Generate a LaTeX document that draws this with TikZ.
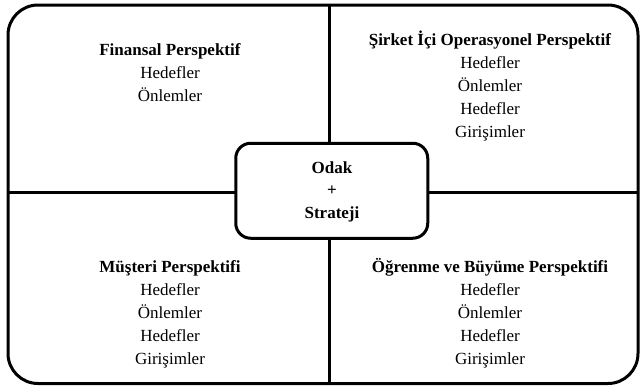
\documentclass[tikz,border=0pt]{standalone}
\usepackage{fontspec}
\setmainfont{Liberation Serif}
\newcommand{\hstrut}{\rule{0pt}{15pt}}
\begin{document}
\begin{tikzpicture}[x=1pt,y=-1pt,
  frame/.style={line width=3pt, rounded corners=30pt},
  divider/.style={line width=3pt},
  focusbox/.style={draw, line width=3pt, rounded corners=15pt, fill=white, minimum width=192pt, minimum height=95pt, inner sep=0pt},
  quad/.style={align=center, anchor=north, inner sep=0pt, font=\fontsize{17}{23}\selectfont},
  ctext/.style={align=center, anchor=north, inner sep=0pt, font=\bfseries\fontsize{17}{22.5}\selectfont}]
\useasboundingbox (0,0) rectangle (643,389);
\draw[frame] (8,5) rectangle (638,383.5);
\coordinate (vt) at (329,5);
\coordinate (vb) at (329,383.5);
\coordinate (hl) at (8,192);
\coordinate (hr) at (638,192);
\draw[divider] (vt) -- (vb);
\draw[divider] (hl) -- (hr);
\node[focusbox] (focus) at (331.75,190.75) {};
\node[ctext] (focustext) at (332,158) {\hstrut Odak\\+\\Strateji};
\node[quad] (fin) at (170,40) {\hstrut\textbf{Finansal Perspektif}\\Hedefler\\Önlemler};
\node[quad] (ops) at (490,30) {\hstrut\textbf{Şirket İçi Operasyonel Perspektif}\\Hedefler\\Önlemler\\Hedefler\\Girişimler};
\node[quad] (cust) at (170,257) {\hstrut\textbf{Müşteri Perspektifi}\\Hedefler\\Önlemler\\Hedefler\\Girişimler};
\node[quad] (learn) at (490,257) {\hstrut\textbf{Öğrenme ve Büyüme Perspektifi}\\Hedefler\\Önlemler\\Hedefler\\Girişimler};
\end{tikzpicture}
\end{document}
